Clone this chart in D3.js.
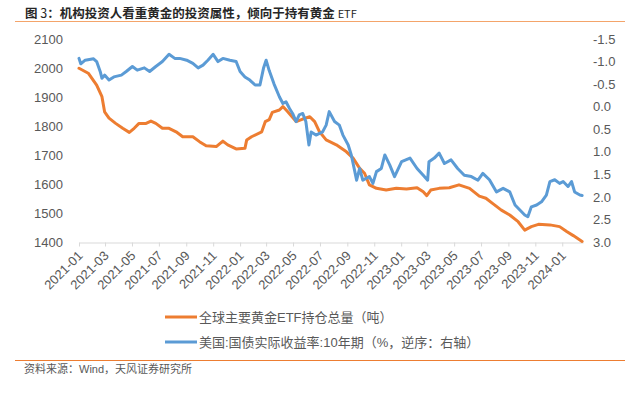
<html>
  <head>
    <meta charset="utf-8">
    <style>
      body {
        margin: 0;
        background: #fff;
      }

      svg text {
        font-family: "Liberation Sans", "Noto Sans CJK SC", sans-serif;
        fill: #595959;
      }

      .cjk {
        font-family: "Noto Sans CJK SC", sans-serif;
      }
    </style>
  </head>

  <body>
    <div id="chart"></div>

    <script src="https://cdn.jsdelivr.net/npm/d3@7/dist/d3.min.js"></script>
    <script>
      // ETF holdings (tonnes), left axis
      var etfDates = [
        "2021-01-01", "2021-01-22", "2021-02-10", "2021-02-22", "2021-02-28", "2021-03-10",
        "2021-03-25", "2021-04-10", "2021-04-25", "2021-05-06", "2021-05-17", "2021-06-02",
        "2021-06-13", "2021-06-24", "2021-07-09", "2021-07-24", "2021-08-09", "2021-08-24",
        "2021-09-16", "2021-10-01", "2021-10-16", "2021-11-08", "2021-11-23", "2021-12-04",
        "2021-12-23", "2022-01-12", "2022-01-16", "2022-01-27", "2022-02-19", "2022-02-27",
        "2022-03-08", "2022-03-15", "2022-03-31", "2022-04-08", "2022-04-19", "2022-05-08",
        "2022-05-23", "2022-06-08", "2022-06-19", "2022-06-30", "2022-07-15", "2022-08-07",
        "2022-08-30", "2022-09-14", "2022-09-29", "2022-10-10", "2022-10-21", "2022-11-06",
        "2022-11-28", "2022-12-21", "2023-01-13", "2023-02-06", "2023-02-20", "2023-02-28",
        "2023-03-09", "2023-03-28", "2023-04-20", "2023-05-12", "2023-06-05", "2023-06-27",
        "2023-07-12", "2023-07-27", "2023-08-16", "2023-09-04", "2023-09-23", "2023-10-08",
        "2023-10-23", "2023-11-08", "2023-12-04", "2023-12-26", "2024-01-11", "2024-01-26",
        "2024-02-15"
      ];
      var etfValues = [
        1999, 1982, 1941, 1901, 1849, 1827,
        1809, 1792, 1778, 1792, 1809, 1809,
        1817, 1809, 1792, 1792, 1780, 1763,
        1763, 1746, 1732, 1729, 1748, 1735,
        1721, 1723, 1752, 1763, 1780, 1815,
        1822, 1847, 1855, 1867, 1849, 1815,
        1824, 1832, 1815, 1780, 1752, 1735,
        1711, 1689, 1654, 1637, 1597, 1585,
        1579, 1585, 1583, 1587, 1573, 1560,
        1579, 1585, 1587, 1597, 1585, 1558,
        1551, 1533, 1510, 1493, 1470, 1441,
        1453, 1461, 1459, 1453, 1436, 1422,
        1402
      ];

      // US 10y real yield (%), right axis, reversed
      var yieldDates = [
        "2021-01-01", "2021-01-05", "2021-01-15", "2021-02-03", "2021-02-10", "2021-02-18",
        "2021-02-22", "2021-02-28", "2021-03-10", "2021-03-21", "2021-04-07", "2021-04-18",
        "2021-05-02", "2021-05-13", "2021-05-29", "2021-06-10", "2021-06-24", "2021-07-09",
        "2021-07-24", "2021-08-06", "2021-08-17", "2021-09-02", "2021-09-16", "2021-09-28",
        "2021-10-09", "2021-10-20", "2021-11-01", "2021-11-12", "2021-11-23", "2021-12-09",
        "2021-12-23", "2022-01-01", "2022-01-12", "2022-01-23", "2022-02-04", "2022-02-15",
        "2022-02-23", "2022-03-01", "2022-03-08", "2022-03-19", "2022-03-31", "2022-04-08",
        "2022-04-15", "2022-04-23", "2022-04-30", "2022-05-08", "2022-05-15", "2022-05-23",
        "2022-05-30", "2022-06-06", "2022-06-11", "2022-06-22", "2022-07-07", "2022-07-15",
        "2022-07-22", "2022-08-03", "2022-08-14", "2022-08-22", "2022-09-03", "2022-09-10",
        "2022-09-18", "2022-09-22", "2022-09-29", "2022-10-06", "2022-10-21", "2022-10-29",
        "2022-11-06", "2022-11-17", "2022-11-25", "2022-12-06", "2022-12-17", "2023-01-02",
        "2023-01-21", "2023-02-06", "2023-02-20", "2023-03-02", "2023-03-05", "2023-03-17",
        "2023-03-28", "2023-04-09", "2023-04-24", "2023-05-09", "2023-05-24", "2023-06-09",
        "2023-06-24", "2023-07-05", "2023-07-20", "2023-08-05", "2023-08-20", "2023-09-04",
        "2023-09-16", "2023-09-27", "2023-10-08", "2023-10-15", "2023-10-23", "2023-11-04",
        "2023-11-15", "2023-11-26", "2023-12-04", "2023-12-15", "2023-12-26", "2024-01-03",
        "2024-01-14", "2024-01-22", "2024-01-29", "2024-02-10", "2024-02-15"
      ];
      var yieldValues = [
        -1.07, -0.95, -1.03, -1.06, -1.00, -0.78,
        -0.63, -0.70, -0.59, -0.66, -0.70, -0.78,
        -0.89, -0.81, -0.86, -0.78, -0.89, -1.00,
        -1.16, -1.07, -1.07, -1.03, -0.96, -0.86,
        -0.92, -1.03, -1.16, -1.00, -1.07, -1.03,
        -1.00, -0.78, -0.66, -0.59, -0.48, -0.48,
        -0.85, -1.03, -0.80, -0.50, -0.22, -0.07,
        -0.11, 0.04, 0.15, 0.33, 0.18, 0.15,
        0.33, 0.85, 0.56, 0.63, 0.56, 0.41,
        0.11, 0.33, 0.41, 0.63, 0.85, 1.07,
        1.44, 1.63, 1.37, 1.63, 1.55, 1.70,
        1.44, 1.37, 1.07, 1.29, 1.55, 1.22,
        1.14, 1.37, 1.52, 1.63, 1.22, 1.14,
        1.03, 1.26, 1.18, 1.37, 1.52, 1.55,
        1.63, 1.48, 1.62, 1.89, 1.81, 1.89,
        2.18, 2.29, 2.40, 2.44, 2.22, 2.18,
        2.11, 1.96, 1.66, 1.62, 1.70, 1.66,
        1.77, 1.66, 1.89, 1.96, 1.97
      ];

      var leftTicks = [1400, 1500, 1600, 1700, 1800, 1900, 2000, 2100];
      var rightTicks = [-1.5, -1.0, -0.5, 0.0, 0.5, 1.0, 1.5, 2.0, 2.5, 3.0];

      var seriesNames = ["全球主要黄金ETF持仓总量（吨）", "美国:国债实际收益率:10年期（%，逆序：右轴）"];
      var seriesColors = ["#ED7D31", "#5B9BD5"];

      var width = 640,
        height = 393;

      var parse = d3.timeParse("%Y-%m-%d");

      var etf = etfDates.map(function (d, i) {
        return { date: parse(d), value: etfValues[i] };
      });
      var ryield = yieldDates.map(function (d, i) {
        return { date: parse(d), value: yieldValues[i] };
      });

      var svg = d3
        .select("#chart")
        .append("svg")
        .attr("width", width)
        .attr("height", height);

      var x = d3
        .scaleTime()
        .domain([parse("2021-01-01"), parse("2024-02-17")])
        .range([79, 583]);

      var yLeft = d3.scaleLinear().domain([1400, 2100]).range([242, 39]);
      var yRight = d3.scaleLinear().domain([-1.5, 3.0]).range([39, 242]);

      // title
      var title = svg
        .append("text")
        .attr("class", "cjk")
        .attr("x", 25)
        .attr("y", 17.5)
        .style("font-size", "12.5px")
        .style("fill", "#262626");
      title.append("tspan").style("font-weight", "bold").text("图 ");
      title.append("tspan").text("3");
      title.append("tspan").style("font-weight", "bold").text("：机构投资人看重黄金的投资属性，倾向于持有黄金 ");
      title.append("tspan").style("font-size", "11px").text("ETF");

      svg
        .append("line")
        .attr("x1", 15)
        .attr("x2", 625)
        .attr("y1", 21.5)
        .attr("y2", 21.5)
        .attr("stroke", "#F4A46A")
        .attr("stroke-width", 1);

      // x axis
      var xAxis = svg
        .append("g")
        .attr("transform", "translate(0,242.5)")
        .call(
          d3
            .axisBottom(x)
            .ticks(d3.timeMonth.every(2))
            .tickFormat(d3.timeFormat("%Y-%m"))
            .tickSize(4)
            .tickSizeOuter(0)
        );
      xAxis.select(".domain").attr("stroke", "#D9D9D9");
      xAxis.selectAll(".tick line").attr("stroke", "#D9D9D9");
      xAxis
        .selectAll(".tick text")
        .attr("y", 0)
        .attr("dy", 0)
        .attr("text-anchor", "end")
        .attr("transform", "translate(4,14) rotate(-45)")
        .style("font-size", "13px")
        .style("fill", "#595959");

      // left axis
      var leftAxis = svg
        .append("g")
        .attr("transform", "translate(66,0)")
        .call(
          d3
            .axisLeft(yLeft)
            .tickValues(leftTicks)
            .tickSize(0)
            .tickPadding(3)
            .tickFormat(d3.format("d"))
        );
      leftAxis.select(".domain").remove();
      leftAxis.selectAll("text").style("font-size", "13px").style("fill", "#595959");

      // right axis
      var rightAxis = svg
        .append("g")
        .attr("transform", "translate(590,0)")
        .call(
          d3
            .axisRight(yRight)
            .tickValues(rightTicks)
            .tickSize(0)
            .tickPadding(3)
            .tickFormat(function (d) {
              return d.toFixed(1);
            })
        );
      rightAxis.select(".domain").remove();
      rightAxis.selectAll("text").style("font-size", "13px").style("fill", "#595959");

      // lines
      var etfLine = d3
        .line()
        .x(function (d) {
          return x(d.date);
        })
        .y(function (d) {
          return yLeft(d.value);
        });

      var yieldLine = d3
        .line()
        .x(function (d) {
          return x(d.date);
        })
        .y(function (d) {
          return yRight(d.value);
        });

      svg
        .append("path")
        .datum(etf)
        .attr("fill", "none")
        .attr("stroke", seriesColors[0])
        .attr("stroke-width", 3)
        .attr("stroke-linejoin", "round")
        .attr("stroke-linecap", "round")
        .attr("d", etfLine);

      svg
        .append("path")
        .datum(ryield)
        .attr("fill", "none")
        .attr("stroke", seriesColors[1])
        .attr("stroke-width", 3)
        .attr("stroke-linejoin", "round")
        .attr("stroke-linecap", "round")
        .attr("d", yieldLine);

      // legend
      var legend = svg
        .selectAll(".legend")
        .data(seriesNames)
        .enter()
        .append("g")
        .attr("class", "legend")
        .attr("transform", function (d, i) {
          return "translate(165," + (317 + i * 25) + ")";
        });

      legend
        .append("line")
        .attr("x1", 0)
        .attr("x2", 32)
        .attr("stroke", function (d, i) {
          return seriesColors[i];
        })
        .attr("stroke-width", 3);

      legend
        .append("text")
        .attr("x", 34)
        .attr("dy", "0.35em")
        .style("font-size", "13px")
        .text(function (d) {
          return d;
        });

      // footer
      svg
        .append("line")
        .attr("x1", 15)
        .attr("x2", 625)
        .attr("y1", 360.5)
        .attr("y2", 360.5)
        .attr("stroke", "#ED7D31")
        .attr("stroke-width", 1);

      svg
        .append("text")
        .attr("x", 24)
        .attr("y", 369)
        .attr("dy", "0.35em")
        .style("font-size", "11px")
        .text("资料来源：Wind，天风证券研究所");
    </script>
  </body>
</html>
